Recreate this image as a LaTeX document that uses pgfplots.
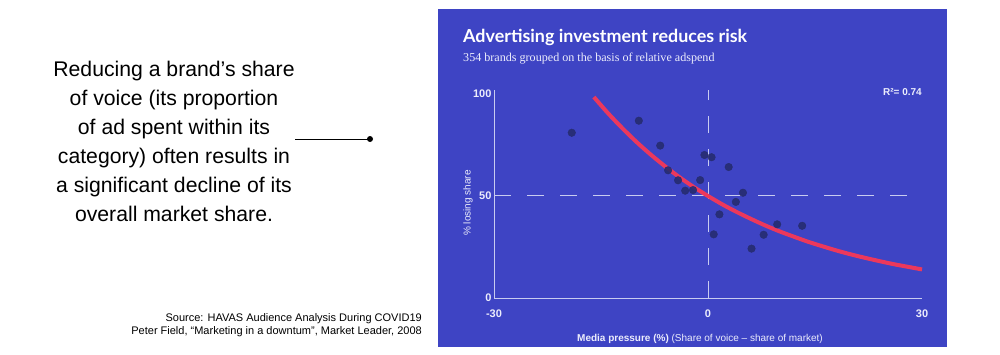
\documentclass[border=0pt]{standalone}
\usepackage{fontspec}
\setmainfont{Liberation Sans}
\newfontfamily\titlefont{Lato}
\newfontfamily\subfont{Liberation Serif}
\usepackage{pgfplots}
\pgfplotsset{compat=1.18}
\definecolor{panel}{RGB}{62,68,196}
\definecolor{linecol}{RGB}{200,204,240}
\definecolor{lighttext}{RGB}{236,237,252}
\definecolor{dotcol}{RGB}{38,44,112}
\definecolor{curvecol}{RGB}{236,56,92}
\begin{document}
\begin{tikzpicture}[x=1pt,y=1pt]
\fill[white] (0,0) rectangle (1000,354);
\path[use as bounding box] (0,0) rectangle (1000,354);
\fill[panel] (438,7) rectangle (947,345);
\begin{axis}[
  at={(494pt,56pt)}, anchor=south west,
  scale only axis, width=428pt, height=208.1pt,
  xmin=-30, xmax=30, ymin=0, ymax=102,
  clip=false,
  axis lines*=left,
  axis line style={linecol, line width=1pt, -},
  xtick={-30,0,30}, ytick={0,50,100},
  major tick length=0pt,
  /pgf/number format/assume math mode=true,
  tick label style={font=\fontsize{11}{12}\selectfont\bfseries, text=lighttext},
  xticklabel style={yshift=-8pt},
  yticklabel style={xshift=1pt},
]
\addplot[linecol, line width=1pt, dash pattern=on 17pt off 16pt] coordinates {(-30,50) (30,50)};
\addplot[linecol, line width=1pt, dash pattern=on 17pt off 16pt] coordinates {(0,0) (0,102)};
\addplot[curvecol, line width=4pt, smooth] coordinates {
(-16,98.5) (-14,90.5) (-12,83.2) (-10,76.4) (-8,70.2) (-6,64.5) (-4,59.2) (-2,54.4)
(0,50.0) (2,45.9) (4,42.2) (6,38.8) (8,35.6) (10,32.7) (12,30.1) (14,27.6)
(16,25.4) (18,23.3) (20,21.4) (22,19.7) (24,18.1) (26,16.6) (28,15.3) (30,14.0)};
\addplot[only marks, mark=*, mark size=3.8pt, color=dotcol, fill opacity=0.9, draw opacity=0.9] coordinates {
(-19.1,81.0) (-9.7,86.9) (-6.7,74.7) (-5.6,62.6) (-4.2,57.7) (-3.2,52.6) (-2.1,52.9)
(-1.1,57.8) (-0.5,70.1) (0.5,69.0) (2.9,64.2) (4.9,51.6) (3.9,47.1) (1.6,41.0)
(0.8,31.2) (9.7,36.1) (13.2,35.4) (7.8,31.0) (6.1,24.2)};
\end{axis}
% panel texts
\node[anchor=base west, inner sep=0pt, text=white, font=\titlefont\bfseries\fontsize{17.9}{20}\selectfont] at (463,311) {Advertising investment reduces risk};
\node[anchor=base west, inner sep=0pt, text=lighttext, font=\subfont\fontsize{12.1}{14}\selectfont] at (463,292) {354 brands grouped on the basis of relative adspend};
\node[anchor=east, inner sep=0pt, text=lighttext, font=\fontsize{10}{12}\selectfont\bfseries] at (922,262) {R²= 0.74};
\node[rotate=90, inner sep=0pt, text=lighttext, font=\fontsize{10}{12}\selectfont] at (468,151) {\% losing share};
\node[inner sep=0pt, text=lighttext, font=\fontsize{10}{12}\selectfont] at (700,15) {\textbf{Media pressure (\%)} (Share of voice -- share of market)};
% left text
\node[align=center, inner sep=0pt, font=\fontsize{21.2}{29}\selectfont] at (174,213) {Reducing a brand’s share\\of voice (its proportion\\of ad spent within its\\category) often results in\\a significant decline of its\\overall market share.};
\draw[line width=1pt] (295,215) -- (370,215);
\fill (370,215) circle (3pt);
\node[anchor=east, align=right, inner sep=0pt, font=\fontsize{11}{12.5}\selectfont] at (422,29) {Source: HAVAS Audience Analysis During COVID19\\Peter Field, “Marketing in a downtum”, Market Leader, 2008};
\end{tikzpicture}
\end{document}
